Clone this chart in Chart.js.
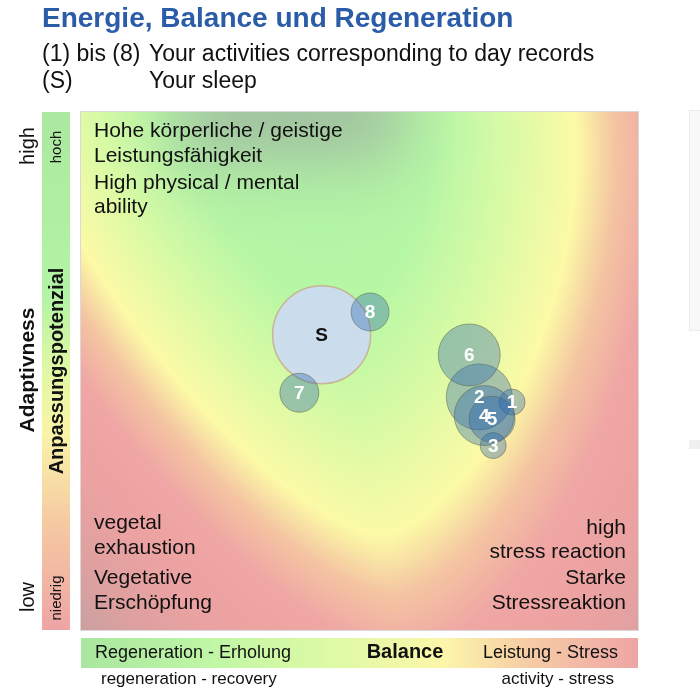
<!DOCTYPE html>
<html>
<head>
<meta charset="utf-8">
<script src="https://cdn.jsdelivr.net/npm/chart.js@4.4.0/dist/chart.umd.min.js"></script>
<style>
html, body { margin: 0; padding: 0; background: #fff; }
#wrap { width: 700px; height: 700px; }
</style>
</head>
<body>
<div id="wrap"><canvas id="energyChart" width="700" height="700"></canvas></div>
<script>
// activities (1) to (8): balance (x), adaptivness (y), bubble radius in px
const activityLabels = ["1", "2", "3", "4", "5", "6", "7", "8"];
const activityBalance = [77.4, 71.5, 74.0, 72.4, 73.8, 69.7, 39.2, 51.9];
const activityAdaptivity = [44.0, 45.0, 35.6, 41.4, 40.7, 53.1, 45.8, 61.4];
const activitySize = [13, 33, 13, 30, 23, 31, 19.5, 19];

// sleep (S)
const sleepLabels = ["S"];
const sleepBalance = [43.2];
const sleepAdaptivity = [57.0];
const sleepSize = [49];

const FONT = "'Liberation Sans', Arial, sans-serif";

function toPoints(xs, ys, rs) {
	return xs.map((x, i) => ({ x: x, y: ys[i], r: rs[i] }));
}

// colour ramp for the background field
const ramp = [
	[0.0, [176, 246, 165]],
	[0.45, [182, 247, 165]],
	[0.68, [214, 250, 165]],
	[0.93, [252, 250, 166]],
	[1.06, [244, 196, 162]],
	[1.2, [239, 166, 164]],
	[1.38, [237, 162, 162]],
	[1.6, [222, 160, 160]],
	[1.8, [196, 160, 160]],
	[2.2, [185, 160, 160]],
];

function rampColor(d) {
	if (d <= ramp[0][0]) return ramp[0][1];
	for (let i = 1; i < ramp.length; i++) {
		if (d <= ramp[i][0]) {
			const t = (d - ramp[i - 1][0]) / (ramp[i][0] - ramp[i - 1][0]);
			const a = ramp[i - 1][1];
			const b = ramp[i][1];
			return [a[0] + (b[0] - a[0]) * t, a[1] + (b[1] - a[1]) * t, a[2] + (b[2] - a[2]) * t];
		}
	}
	return ramp[ramp.length - 1][1];
}

let heatCanvas = null;

function getHeatmap(a) {
	const w = Math.round(a.right - a.left);
	const h = Math.round(a.bottom - a.top);
	if (heatCanvas && heatCanvas.width === w && heatCanvas.height === h) return heatCanvas;
	heatCanvas = document.createElement("canvas");
	heatCanvas.width = w;
	heatCanvas.height = h;
	const hctx = heatCanvas.getContext("2d");
	const img = hctx.createImageData(w, h);
	for (let j = 0; j < h; j++) {
		const v = j / h;
		const cx = 0.39 + 0.18 * v;
		const dy = Math.pow(v / 0.88, 1.5);
		for (let i = 0; i < w; i++) {
			const u = i / w;
			const dx = Math.pow(Math.abs(u - cx) / 0.532, 1.5);
			const d = Math.pow(dx + dy, 1 / 1.5);
			let c = rampColor(d);
			// greyish shade along the top centre
			const g = 0.85 * Math.exp(-Math.pow((u - 0.375) / 0.224, 4) - Math.pow(v / 0.13, 2));
			c = [c[0] + (160 - c[0]) * g, c[1] + (190 - c[1]) * g, c[2] + (160 - c[2]) * g];
			const k = (j * w + i) * 4;
			img.data[k] = c[0];
			img.data[k + 1] = c[1];
			img.data[k + 2] = c[2];
			img.data[k + 3] = 255;
		}
	}
	hctx.putImageData(img, 0, 0);
	return heatCanvas;
}

function rotatedText(ctx, text, x, y, font) {
	ctx.save();
	ctx.translate(x, y);
	ctx.rotate(-Math.PI / 2);
	ctx.font = font;
	ctx.textAlign = "center";
	ctx.textBaseline = "middle";
	ctx.fillText(text, 0, 0);
	ctx.restore();
}

function textLines(ctx, lines, x, align) {
	ctx.textAlign = align;
	lines.forEach((l) => ctx.fillText(l[0], x, l[1]));
}

const backdrop = {
	id: "backdrop",
	beforeDatasetsDraw(chart) {
		const { ctx, chartArea: a } = chart;
		ctx.save();

		// title and notes
		ctx.textBaseline = "middle";
		ctx.textAlign = "left";
		ctx.fillStyle = "#2b5ca8";
		ctx.font = "bold 28px " + FONT;
		ctx.fillText("Energie, Balance und Regeneration", 42, 19);
		ctx.fillStyle = "#111";
		ctx.font = "23px " + FONT;
		ctx.fillText("(1) bis (8)", 42, 55);
		ctx.fillText("Your activities corresponding to day records", 149, 55);
		ctx.fillText("(S)", 42, 82);
		ctx.fillText("Your sleep", 149, 82);

		// field
		ctx.drawImage(getHeatmap(a), a.left, a.top);
		ctx.strokeStyle = "rgba(0,0,0,0.15)";
		ctx.lineWidth = 1;
		ctx.strokeRect(a.left - 0.5, a.top - 0.5, a.right - a.left + 1, a.bottom - a.top + 1);

		// vertical bar
		const vg = ctx.createLinearGradient(0, a.top, 0, a.bottom);
		vg.addColorStop(0, "rgb(172,232,160)");
		vg.addColorStop(0.35, "rgb(178,244,165)");
		vg.addColorStop(0.5, "rgb(225,248,165)");
		vg.addColorStop(0.62, "rgb(250,244,168)");
		vg.addColorStop(0.8, "rgb(245,200,162)");
		vg.addColorStop(1, "rgb(238,165,165)");
		ctx.fillStyle = vg;
		ctx.fillRect(42, a.top, 28, a.bottom - a.top);

		// horizontal bar
		const hg = ctx.createLinearGradient(a.left, 0, a.right, 0);
		hg.addColorStop(0, "rgb(170,230,160)");
		hg.addColorStop(0.22, "rgb(190,246,165)");
		hg.addColorStop(0.45, "rgb(222,250,165)");
		hg.addColorStop(0.65, "rgb(252,246,170)");
		hg.addColorStop(0.8, "rgb(246,205,165)");
		hg.addColorStop(1, "rgb(238,165,165)");
		ctx.fillStyle = hg;
		ctx.fillRect(a.left, 638, a.right - a.left, 30);

		ctx.fillStyle = "#111";
		ctx.textBaseline = "middle";
		ctx.font = "18px " + FONT;
		ctx.textAlign = "left";
		ctx.fillText("Regeneration - Erholung", 95, 653);
		ctx.textAlign = "right";
		ctx.fillText("Leistung - Stress", 618, 653);
		ctx.font = "bold 20px " + FONT;
		ctx.textAlign = "center";
		ctx.fillText("Balance", 405, 652);
		ctx.font = "17px " + FONT;
		ctx.textAlign = "left";
		ctx.fillText("regeneration - recovery", 101, 679);
		ctx.textAlign = "right";
		ctx.fillText("activity - stress", 614, 679);

		// left axis texts
		rotatedText(ctx, "high", 28, 146, "20px " + FONT);
		rotatedText(ctx, "low", 28, 597, "20px " + FONT);
		rotatedText(ctx, "Adaptivness", 28, 370, "bold 21px " + FONT);
		rotatedText(ctx, "hoch", 57, 147, "15px " + FONT);
		rotatedText(ctx, "Anpassungspotenzial", 57, 371, "bold 20px " + FONT);
		rotatedText(ctx, "niedrig", 57, 598, "15px " + FONT);

		// field notes
		ctx.font = "21px " + FONT;
		textLines(ctx, [
			["Hohe körperliche / geistige", 131],
			["Leistungsfähigkeit", 156],
			["High physical / mental", 183],
			["ability", 207],
			["vegetal", 523],
			["exhaustion", 548],
			["Vegetative", 578],
			["Erschöpfung", 603],
		], 94, "left");
		textLines(ctx, [
			["high", 528],
			["stress reaction", 552],
			["Starke", 578],
			["Stressreaktion", 603],
		], 626, "right");

		// neighbouring panel, cut off at the edge
		ctx.fillStyle = "#f8f8f8";
		ctx.fillRect(689, 110, 12, 220);
		ctx.strokeStyle = "#ececec";
		ctx.strokeRect(689.5, 110.5, 12, 220);
		ctx.fillStyle = "#f0f0f0";
		ctx.fillRect(689, 440, 12, 9);

		ctx.restore();
	},
	afterDatasetsDraw(chart) {
		const ctx = chart.ctx;
		ctx.save();
		ctx.textAlign = "center";
		ctx.textBaseline = "middle";
		chart.data.datasets.forEach((ds, di) => {
			const meta = chart.getDatasetMeta(di);
			meta.data.forEach((el, i) => {
				ctx.font = "bold 19px " + FONT;
				ctx.fillStyle = ds.labelColor;
				ctx.fillText(ds.pointLabels[i], el.x, el.y + 1);
			});
		});
		ctx.restore();
	},
};

const ctx = document.getElementById("energyChart").getContext("2d");

const myChart = new Chart(ctx, {
	type: "bubble",
	data: {
		datasets: [
			{
				label: "Activities",
				data: toPoints(activityBalance, activityAdaptivity, activitySize),
				pointLabels: activityLabels,
				labelColor: "#ffffff",
				backgroundColor: "rgba(40,100,175,0.36)",
				borderColor: "rgba(90,95,75,0.5)",
				borderWidth: 1,
			},
			{
				label: "Sleep",
				data: toPoints(sleepBalance, sleepAdaptivity, sleepSize),
				pointLabels: sleepLabels,
				labelColor: "#111111",
				backgroundColor: "rgba(204,218,242,0.92)",
				borderColor: "rgba(200,175,140,0.9)",
				borderWidth: 1.5,
			},
		],
	},
	options: {
		responsive: false,
		animation: false,
		layout: {
			padding: { left: 81, right: 62, top: 112, bottom: 70 },
		},
		scales: {
			x: { type: "linear", min: 0, max: 100, display: false },
			y: { type: "linear", min: 0, max: 100, display: false },
		},
		plugins: {
			legend: { display: false },
			tooltip: { enabled: false },
		},
	},
	plugins: [backdrop],
});
</script>
</body>
</html>
